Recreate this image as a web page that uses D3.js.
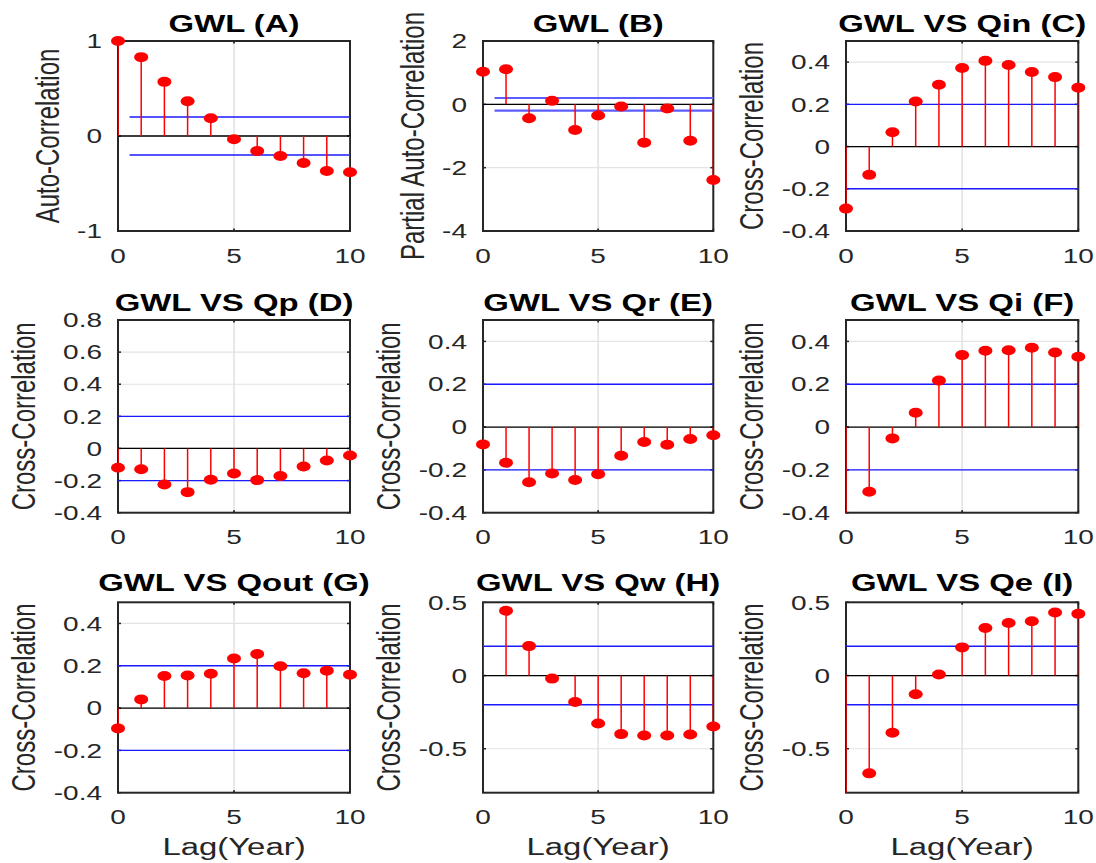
<!DOCTYPE html>
<html>
<head>
<meta charset="utf-8">
<script src="https://cdn.jsdelivr.net/npm/d3@7"></script>
<style>
  html, body { margin: 0; padding: 0; background: #fff; }
  svg { display: block; }
</style>
</head>
<body>
<svg id="chart" width="1096" height="863"></svg>
<script>
// ---------------- DATA ----------------
const lags = [0, 1, 2, 3, 4, 5, 6, 7, 8, 9, 10];
const xTicks = [0, 5, 10];

const titles = ["GWL (A)", "GWL (B)", "GWL VS Qin (C)", "GWL VS Qp (D)", "GWL VS Qr (E)",
                "GWL VS Qi (F)", "GWL VS Qout (G)", "GWL VS Qw (H)", "GWL VS Qe (I)"];
const yLabels = ["Auto-Correlation", "Partial Auto-Correlation", "Cross-Correlation",
                 "Cross-Correlation", "Cross-Correlation", "Cross-Correlation",
                 "Cross-Correlation", "Cross-Correlation", "Cross-Correlation"];
const xLabel = "Lag(Year)";

const acfA  = [1.00, 0.83, 0.57, 0.365, 0.186, -0.035, -0.158, -0.21, -0.284, -0.368, -0.382];
const pacfB = [1.03, 1.11, -0.44, 0.11, -0.81, -0.35, -0.07, -1.21, -0.13, -1.15, -2.39];
const ccfC  = [-0.294, -0.134, 0.068, 0.213, 0.293, 0.372, 0.406, 0.386, 0.353, 0.329, 0.279];
const ccfD  = [-0.12, -0.129, -0.224, -0.272, -0.195, -0.156, -0.197, -0.172, -0.112, -0.075, -0.044];
const ccfE  = [-0.081, -0.167, -0.258, -0.217, -0.247, -0.22, -0.134, -0.07, -0.083, -0.056, -0.038];
const ccfF  = [-0.47, -0.302, -0.053, 0.067, 0.217, 0.336, 0.356, 0.359, 0.37, 0.348, 0.328];
const ccfG  = [-0.096, 0.041, 0.152, 0.154, 0.162, 0.234, 0.256, 0.198, 0.165, 0.177, 0.158];
const ccfH  = [0.6, 0.442, 0.201, -0.021, -0.181, -0.327, -0.40, -0.41, -0.41, -0.403, -0.348];
const ccfI  = [-0.85, -0.668, -0.391, -0.128, 0.007, 0.192, 0.325, 0.359, 0.371, 0.43, 0.421];
const series = [acfA, pacfB, ccfC, ccfD, ccfE, ccfF, ccfG, ccfH, ccfI];

const bounds = [0.2, -0.2];
const boundStart = [0.5, 0.5, 0, 0, 0, 0, 0, 0, 0];

const yDomains = [[-1, 1], [-4, 2], [-0.4, 0.5], [-0.4, 0.8], [-0.4, 0.5],
                  [-0.4, 0.5], [-0.4, 0.5], [-0.8, 0.5], [-0.8, 0.5]];
const yTicks = [[-1, 0, 1], [-4, -2, 0, 2], [-0.4, -0.2, 0, 0.2, 0.4],
                [-0.4, -0.2, 0, 0.2, 0.4, 0.6, 0.8], [-0.4, -0.2, 0, 0.2, 0.4],
                [-0.4, -0.2, 0, 0.2, 0.4], [-0.4, -0.2, 0, 0.2, 0.4],
                [-0.5, 0, 0.5], [-0.5, 0, 0.5]];

// ---------------- LAYOUT ----------------
const colLeft = [118, 483, 846], colRight = [350, 713.3, 1078.3];
const rowTop = [41, 320, 602.3], rowBottom = [231, 512.7, 792.7];
const titleBase = [31.5, 310.7, 590.5];
const SX = 1.4; // horizontal stretch of the original figure
const FONT = "'Liberation Sans', Arial, Helvetica, sans-serif";
const TXT = "#262626";

const svg = d3.select("#chart");
svg.append("rect").attr("width", 1096).attr("height", 863).attr("fill", "#fff");
const svgRect = document.getElementById("chart").getBoundingClientRect();

function sText(g, x, y, str, opt) {
  const t = g.append("text")
    .attr("transform", `translate(${x},${y}) scale(${SX},1)` + (opt.rotate ? " rotate(-90)" : ""))
    .attr("text-anchor", opt.anchor || "middle")
    .attr("font-family", FONT)
    .attr("font-size", opt.size)
    .attr("font-weight", opt.bold ? "bold" : "normal")
    .attr("fill", opt.fill || TXT)
    .text(str);
  if (opt.dy) t.attr("dy", opt.dy);
  return t;
}

series.forEach((vals, i) => {
  const r = Math.floor(i / 3), c = i % 3;
  const x0 = colLeft[c], x1 = colRight[c], y0 = rowTop[r], y1 = rowBottom[r];
  const x = d3.scaleLinear().domain([0, 10]).range([x0, x1]);
  const y = d3.scaleLinear().domain(yDomains[i]).range([y1, y0]);
  const g = svg.append("g");
  const clipId = "clip" + i;
  g.append("clipPath").attr("id", clipId).append("rect")
    .attr("x", x0).attr("y", y0).attr("width", x1 - x0).attr("height", y1 - y0);

  // grid
  g.append("g").selectAll("line").data(yTicks[i]).join("line")
    .attr("x1", x0).attr("x2", x1).attr("y1", d => y(d)).attr("y2", d => y(d))
    .attr("stroke", "#e3e3e3").attr("stroke-width", 1.2);
  g.append("g").selectAll("line").data(xTicks).join("line")
    .attr("y1", y0).attr("y2", y1).attr("x1", d => x(d)).attr("x2", d => x(d))
    .attr("stroke", "#e3e3e3").attr("stroke-width", 1.6);

  // box
  g.append("rect").attr("x", x0).attr("y", y0).attr("width", x1 - x0).attr("height", y1 - y0)
    .attr("fill", "none").attr("stroke", "#262626").attr("stroke-width", 2);

  // ticks (inward)
  yTicks[i].forEach(t => {
    g.append("line").attr("x1", x0).attr("x2", x0 + 3).attr("y1", y(t)).attr("y2", y(t))
      .attr("stroke", "#262626").attr("stroke-width", 1.5);
    g.append("line").attr("x1", x1).attr("x2", x1 - 3).attr("y1", y(t)).attr("y2", y(t))
      .attr("stroke", "#262626").attr("stroke-width", 1.5);
  });
  xTicks.forEach(t => {
    g.append("line").attr("x1", x(t)).attr("x2", x(t)).attr("y1", y1).attr("y2", y1 - 2.5)
      .attr("stroke", "#262626").attr("stroke-width", 1.8);
    g.append("line").attr("x1", x(t)).attr("x2", x(t)).attr("y1", y0).attr("y2", y0 + 2.5)
      .attr("stroke", "#262626").attr("stroke-width", 1.8);
  });

  // confidence bounds
  const isB = i === 1;
  g.append("g").selectAll("line").data(bounds).join("line")
    .attr("x1", x(boundStart[i])).attr("x2", x(10))
    .attr("y1", d => y(d)).attr("y2", d => y(d))
    .attr("stroke", isB ? "#5c5cff" : "#1a1aff").attr("stroke-width", isB ? 2.2 : 1.4);

  // baseline
  g.append("line").attr("x1", x0).attr("x2", x1).attr("y1", y(0)).attr("y2", y(0))
    .attr("stroke", "#000").attr("stroke-width", 1.3);

  // stems
  g.append("g").attr("clip-path", `url(#${clipId})`).selectAll("line").data(lags).join("line")
    .attr("x1", d => x(d)).attr("x2", d => x(d))
    .attr("y1", y(0)).attr("y2", d => y(vals[d]))
    .attr("stroke", "#ff0000").attr("stroke-width", 1.5);

  // markers (only if inside axes limits)
  const dom = yDomains[i];
  g.append("g").selectAll("ellipse")
    .data(lags.filter(d => vals[d] >= dom[0] - 1e-9 && vals[d] <= dom[1] + 1e-9)).join("ellipse")
    .attr("cx", d => x(d)).attr("cy", d => y(vals[d]))
    .attr("rx", 7).attr("ry", 5).attr("fill", "#ff0000");

  // tick labels
  const labs = [];
  yTicks[i].forEach(t => {
    labs.push(sText(g, x0 - 16, y(t), String(t), { anchor: "end", size: 20, dy: "0.36em" }));
  });
  xTicks.forEach(t => {
    sText(g, x(t), y1 + 31.5, String(t), { size: 20 });
  });

  // title
  sText(g, (x0 + x1) / 2, titleBase[r], titles[i], { size: 23.5, bold: true, fill: "#000" });

  // y label
  let minLeft = Infinity;
  labs.forEach(l => { minLeft = Math.min(minLeft, l.node().getBoundingClientRect().left - svgRect.left); });
  sText(g, minLeft - 18.5, (y0 + y1) / 2, yLabels[i], { size: 24, rotate: true });

  // x label (bottom row)
  if (r === 2) sText(g, (x0 + x1) / 2, 855, xLabel, { size: 23.5 });
});
</script>
</body>
</html>
